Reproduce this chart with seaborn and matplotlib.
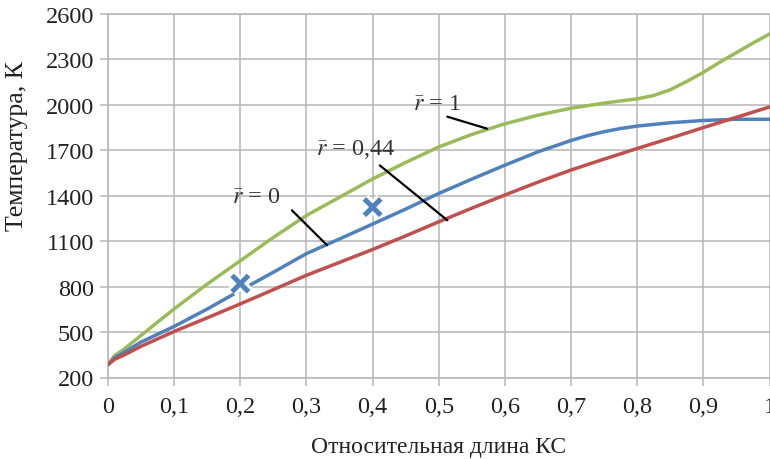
import numpy as np
import pandas as pd
import matplotlib
matplotlib.use("Agg")
import matplotlib.pyplot as plt
import matplotlib.patheffects as pe
import seaborn as sns

# относительная длина КС и температура, К (по кривым)
x_r1 = [0, 0.01, 0.025, 0.05, 0.1, 0.15, 0.2, 0.25, 0.3, 0.35, 0.4, 0.45, 0.5,
        0.55, 0.6, 0.65, 0.7, 0.75, 0.8, 0.825, 0.85, 0.875, 0.9, 0.925, 0.95,
        0.975, 1.0]
t_r1 = [285, 345, 390, 478, 653, 817, 971, 1125, 1270, 1390, 1511, 1620, 1722,
        1805, 1875, 1932, 1978, 2012, 2040, 2062, 2100, 2155, 2215, 2282, 2345,
        2408, 2468]

x_r044 = [0, 0.01, 0.025, 0.05, 0.1, 0.15, 0.2, 0.25, 0.3, 0.35, 0.4, 0.45,
          0.5, 0.55, 0.6, 0.65, 0.7, 0.725, 0.75, 0.775, 0.8, 0.85, 0.9, 0.95,
          1.0]
t_r044 = [285, 330, 368, 434, 537, 652, 775, 895, 1018, 1115, 1213, 1312,
          1415, 1510, 1602, 1690, 1765, 1797, 1823, 1844, 1860, 1882, 1897,
          1905, 1905]

x_r0 = [0, 0.01, 0.025, 0.05, 0.1, 0.15, 0.2, 0.25, 0.3, 0.35, 0.4, 0.45, 0.5,
        0.55, 0.6, 0.65, 0.7, 0.75, 0.8, 0.85, 0.9, 0.95, 1.0]
t_r0 = [285, 320, 350, 406, 504, 594, 686, 780, 875, 960, 1045, 1135, 1228,
        1318, 1405, 1490, 1570, 1642, 1712, 1780, 1850, 1918, 1986]

# экспериментальные точки
exp_x = [0.2, 0.4]
exp_t = [820, 1325]

x_ticks = [0, 0.1, 0.2, 0.3, 0.4, 0.5, 0.6, 0.7, 0.8, 0.9, 1.0]
x_labels = ["0", "0,1", "0,2", "0,3", "0,4", "0,5", "0,6", "0,7", "0,8", "0,9", "1"]
y_ticks = [200, 500, 800, 1100, 1400, 1700, 2000, 2300, 2600]

series = ["r1", "r044", "r0"]
colors = {"r1": "#9bbb59", "r044": "#4f81bd", "r0": "#c0504d"}

df = pd.concat([
    pd.DataFrame({"x": x_r1, "T": t_r1, "s": "r1"}),
    pd.DataFrame({"x": x_r044, "T": t_r044, "s": "r044"}),
    pd.DataFrame({"x": x_r0, "T": t_r0, "s": "r0"}),
], ignore_index=True)

sns.set_style("white")
plt.rcParams["font.family"] = ["Liberation Serif", "DejaVu Serif"]
plt.rcParams["mathtext.fontset"] = "stix"

fig = plt.figure(figsize=(7.7, 4.6), dpi=100)
ax = fig.add_axes([108 / 770, 1 - 378.5 / 460, 661.5 / 770, 363.5 / 460])

sns.lineplot(data=df, x="x", y="T", hue="s", hue_order=series, palette=colors,
             linewidth=2.5, legend=False, ax=ax, zorder=3, sort=True)

ax.scatter(exp_x, exp_t, marker="x", s=140, linewidths=3.6, color="#4f81bd", zorder=5,
           path_effects=[pe.Stroke(linewidth=8, foreground="white"), pe.Normal()])

ax.set_xlim(0, 1)
ax.set_ylim(200, 2600)
ax.set_xticks(x_ticks)
ax.set_xticklabels(x_labels)
ax.set_yticks(y_ticks)
ax.grid(True, color="#b5b5b5", linewidth=1.1)
for sp in ax.spines.values():
    sp.set_color("#b5b5b5")
    sp.set_linewidth(1.1)
ax.spines["right"].set_visible(False)
ax.tick_params(axis="both", length=6, width=1.1, color="#b5b5b5", labelsize=17.5,
               labelcolor="#222222", direction="out", bottom=True, left=True)
ax.tick_params(axis="x", pad=7)
ax.tick_params(axis="y", pad=4)

ax.set_xlabel("Относительная длина КС", fontsize=17, color="#222222", labelpad=14)
ax.set_ylabel("Температура, К", fontsize=18.5, color="#222222", va="center")
ax.yaxis.set_label_coords(-0.138, 0.640)

# подписи кривых
ann_style = dict(fontsize=17.5, color="#333333", ha="center", va="center")
ax.text(0.498, 2012, r"$\bar{r}$ = 1", **ann_style)
ax.plot([0.513, 0.573], [1922, 1843], color="black", lw=1.6, zorder=4)
ax.text(0.374, 1712, r"$\bar{r}$ = 0,44", **ann_style)
ax.plot([0.411, 0.513], [1600, 1238], color="black", lw=1.6, zorder=4)
ax.text(0.224, 1396, r"$\bar{r}$ = 0", **ann_style)
ax.plot([0.278, 0.331], [1304, 1074], color="black", lw=1.6, zorder=4)

fig.savefig("out.png", dpi=100)
